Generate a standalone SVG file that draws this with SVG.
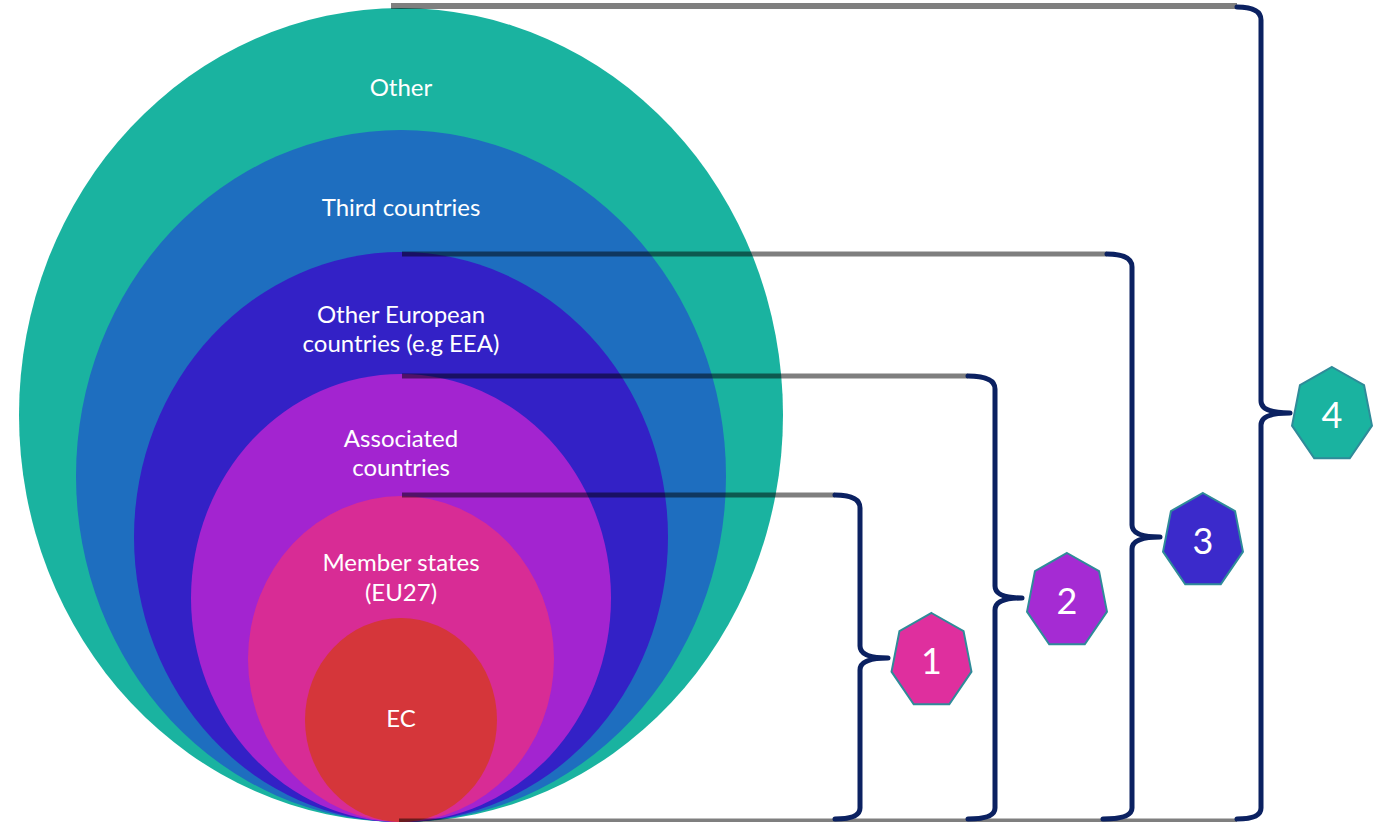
<svg xmlns="http://www.w3.org/2000/svg" width="1376" height="822" viewBox="0 0 1376 822">
<style>
.lbl{font-family:Lato,"Open Sans","Noto Sans",sans-serif;font-size:24px;fill:#ffffff;text-anchor:middle}
.num{font-family:Lato,"Open Sans","Noto Sans",sans-serif;font-size:36px;fill:#ffffff;text-anchor:middle}
.gl{stroke:#000000;stroke-opacity:0.5;stroke-width:5;fill:none}
.br{stroke:#0b2161;stroke-width:5;fill:none;stroke-linejoin:round;stroke-linecap:round}
.hp{stroke:#2f8b99;stroke-width:2}
</style>
<defs>
<polygon id="hept" points="0,-48 32.05,-29.93 39.97,10.68 17.79,43.25 -17.79,43.25 -39.97,10.68 -32.05,-29.93"/>
</defs>
<rect width="1376" height="822" fill="#ffffff"/>
<g id="other"><ellipse cx="401" cy="415" rx="382" ry="407" fill="#1ab3a0"/><text class="lbl" x="401" y="96">Other</text></g>
<g id="third"><ellipse cx="401" cy="476" rx="325" ry="346" fill="#1e6ebf"/><text class="lbl" x="401" y="216">Third countries</text></g>
<g id="european"><ellipse cx="401" cy="537" rx="267" ry="285" fill="#3321c6"/><text class="lbl" x="401" y="323">Other European</text><text class="lbl" x="401" y="352">countries (e.g EEA)</text></g>
<g id="associated"><ellipse cx="401" cy="598" rx="210" ry="224" fill="#a324d0"/><text class="lbl" x="401" y="447">Associated</text><text class="lbl" x="401" y="476">countries</text></g>
<g id="member"><ellipse cx="401" cy="659" rx="153" ry="163" fill="#d82c95"/><text class="lbl" x="401" y="571">Member states</text><text class="lbl" x="401" y="601">(EU27)</text></g>
<g id="ec"><ellipse cx="401" cy="720" rx="96" ry="102" fill="#d5363a"/><text class="lbl" x="401" y="727">EC</text></g>
<g id="connectors">
<line class="gl" x1="391" y1="6" x2="1237" y2="6" style="stroke-width:6"/>
<line class="gl" x1="402" y1="254" x2="1107" y2="254"/>
<line class="gl" x1="402" y1="376" x2="968" y2="376"/>
<line class="gl" x1="402" y1="495" x2="835" y2="495"/>
<line class="gl" x1="399" y1="820.5" x2="1237" y2="820.5" style="stroke-width:4"/>
<path class="br" d="M835,495 Q860,495 860,508 L860,646 Q860,658 888,658 Q860,658 860,670 L860,808 Q860,819 835,819"/>
<path class="br" d="M968,376 Q995,376 995,389 L995,586 Q995,598 1022,598 Q995,598 995,610 L995,808 Q995,819 968,819"/>
<path class="br" d="M1107,254 Q1132,254 1132,267 L1132,525 Q1132,537 1160,537 Q1132,537 1132,549 L1132,808 Q1132,819 1103,819"/>
<path class="br" d="M1237,7 Q1261,7 1261,20 L1261,401 Q1261,413 1290,413 Q1261,413 1261,425 L1261,808 Q1261,819 1237,819"/>
</g>
<g id="n1"><use href="#hept" class="hp" fill="#df2f9e" transform="translate(931.5,661)"/><text class="num" x="931.5" y="674">1</text></g>
<g id="n2"><use href="#hept" class="hp" fill="#a52bd3" transform="translate(1067,601)"/><text class="num" x="1067" y="614">2</text></g>
<g id="n3"><use href="#hept" class="hp" fill="#3b2acb" transform="translate(1203,541)"/><text class="num" x="1203" y="554">3</text></g>
<g id="n4"><use href="#hept" class="hp" fill="#1ab3a0" transform="translate(1332,415)"/><text class="num" x="1332" y="428">4</text></g>
</svg>
